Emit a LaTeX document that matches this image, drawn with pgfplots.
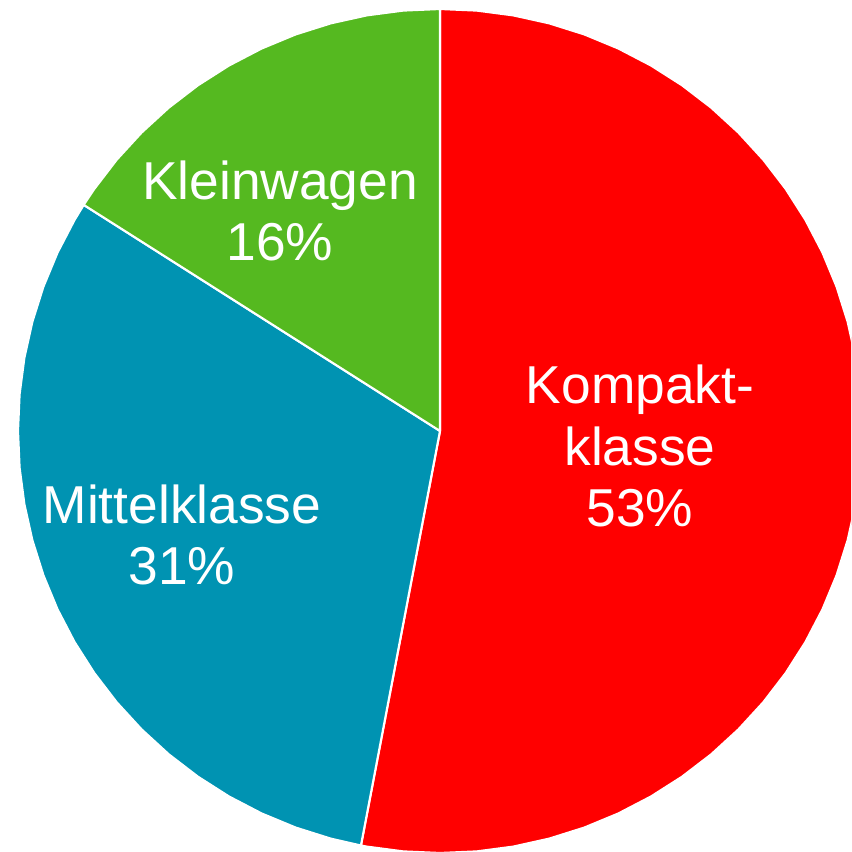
\documentclass[border=0pt]{standalone}
\usepackage{pgfplots}
\pgfplotsset{compat=1.18}
\usepackage{fontspec}
\setmainfont{Liberation Sans}
\definecolor{kompakt}{RGB}{255,0,0}
\definecolor{mittel}{RGB}{0,147,178}
\definecolor{klein}{RGB}{85,185,32}
\begin{document}
\begin{tikzpicture}
% Shares: Kompaktklasse 53%, Mittelklasse 31%, Kleinwagen 16%
% Slices start at 90 deg, clockwise; radius 422 (px units)
\begin{axis}[x=0.75pt, y=0.75pt, hide axis,
  xmin=-440, xmax=411, ymin=-421, ymax=431, clip=true]
% Kompaktklasse 53% : 90 -> -100.8
\addplot[data cs=polar, fill=kompakt, draw=white, line width=1.6pt, line join=round] coordinates {
 (0,0) (90,422) (85,422) (80,422) (75,422) (70,422) (65,422) (60,422) (55,422)
 (50,422) (45,422) (40,422) (35,422) (30,422) (25,422) (20,422) (15,422) (10,422)
 (5,422) (0,422) (-5,422) (-10,422) (-15,422) (-20,422) (-25,422) (-30,422)
 (-35,422) (-40,422) (-45,422) (-50,422) (-55,422) (-60,422) (-65,422) (-70,422)
 (-75,422) (-80,422) (-85,422) (-90,422) (-95,422) (-100,422) (-100.8,422) (0,0)};
% Mittelklasse 31% : -100.8 -> -212.4
\addplot[data cs=polar, fill=mittel, draw=white, line width=1.6pt, line join=round] coordinates {
 (0,0) (-100.8,422) (-105,422) (-110,422) (-115,422) (-120,422) (-125,422)
 (-130,422) (-135,422) (-140,422) (-145,422) (-150,422) (-155,422) (-160,422)
 (-165,422) (-170,422) (-175,422) (-180,422) (-185,422) (-190,422) (-195,422)
 (-200,422) (-205,422) (-210,422) (-212.4,422) (0,0)};
% Kleinwagen 16% : 147.6 -> 90
\addplot[data cs=polar, fill=klein, draw=white, line width=1.6pt, line join=round] coordinates {
 (0,0) (147.6,422) (145,422) (140,422) (135,422) (130,422) (125,422) (120,422)
 (115,422) (110,422) (105,422) (100,422) (95,422) (90,422) (0,0)};
\node[text=white, align=center, font=\fontsize{40}{46}\selectfont, inner sep=0pt]
  at (axis cs:-160,220) {Kleinwagen\\16\%};
\node[text=white, align=center, font=\fontsize{40}{46}\selectfont, inner sep=0pt]
  at (axis cs:200,-15) {Kompakt-\\klasse\\53\%};
\node[text=white, align=center, font=\fontsize{40}{46}\selectfont, inner sep=0pt]
  at (axis cs:-258,-104) {Mittelklasse\\31\%};
\coordinate (bbsw) at (axis cs:-440,-421);
\coordinate (bbne) at (axis cs:411,431);
\end{axis}
\pgfresetboundingbox
\clip (bbsw) rectangle (bbne);
\path[use as bounding box] (bbsw) rectangle (bbne);
\end{tikzpicture}
\end{document}
